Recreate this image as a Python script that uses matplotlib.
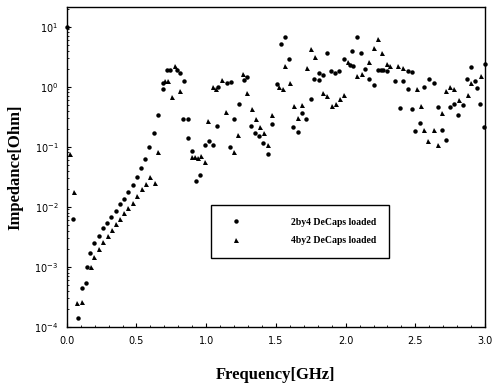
import matplotlib
matplotlib.use("Agg")
import matplotlib.pyplot as plt
from matplotlib.ticker import LogLocator, FixedLocator

# 2by4 DeCaps loaded (circulos)
f_2by4 = [0.0, 0.048, 0.083, 0.107, 0.138, 0.143, 0.167, 0.198, 0.232, 0.258,
          0.289, 0.32, 0.351, 0.382, 0.411, 0.442, 0.473, 0.506, 0.533, 0.561,
          0.592, 0.626, 0.652, 0.688, 0.693, 0.717, 0.74, 0.789, 0.812, 0.836,
          0.841, 0.867, 0.867, 0.9, 0.927, 0.958, 0.99, 1.02, 1.05, 1.08,
          1.087, 1.147, 1.17, 1.178, 1.2, 1.235, 1.27, 1.295, 1.319, 1.35,
          1.38, 1.41, 1.44, 1.47, 1.505, 1.534, 1.565, 1.596, 1.625, 1.656,
          1.687, 1.715, 1.751, 1.775, 1.81, 1.81, 1.84, 1.868, 1.895, 1.923,
          1.954, 1.99, 2.03, 2.048, 2.05, 2.08, 2.11, 2.14, 2.167, 2.2,
          2.23, 2.25, 2.27, 2.3, 2.353, 2.39, 2.413, 2.444, 2.449, 2.478,
          2.478, 2.5, 2.533, 2.564, 2.6, 2.63, 2.66, 2.69, 2.717, 2.75,
          2.78, 2.807, 2.843, 2.867, 2.898, 2.93, 2.94, 2.963, 2.99, 3.0]
z_2by4 = [10.0, 0.0062, 1.4e-4, 4.4e-4, 5.4e-4, 1.0e-3, 1.7e-3, 2.5e-3, 3.3e-3, 4.4e-3,
          5.4e-3, 6.8e-3, 8.5e-3, 0.011, 0.0135, 0.0174, 0.023, 0.031, 0.044, 0.063,
          0.1, 0.166, 0.34, 0.91, 1.14, 1.86, 1.9, 1.9, 1.7, 0.29,
          1.26, 0.29, 0.138, 0.085, 0.027, 0.034, 0.107, 0.126, 0.105, 0.224,
          1.0, 1.17, 0.1, 1.2, 0.29, 0.51, 1.29, 1.45, 0.224, 0.166,
          0.15, 0.117, 0.076, 0.24, 1.1, 5.1, 6.8, 2.9, 0.21, 0.174,
          0.36, 0.29, 0.62, 1.35, 1.66, 1.29, 1.57, 3.6, 1.82, 1.7,
          1.82, 2.9, 2.3, 4.0, 2.24, 6.6, 3.7, 1.97, 1.35, 1.07,
          1.9, 1.9, 1.9, 1.85, 1.22, 0.44, 1.22, 0.91, 1.82, 1.78,
          0.42, 0.186, 0.25, 0.98, 1.32, 1.17, 0.46, 0.19, 0.129, 0.46,
          0.52, 0.34, 0.5, 1.35, 2.14, 1.26, 0.95, 0.52, 0.21, 2.4]

# 4by2 DeCaps loaded (triangulos)
f_4by2 = [0.02, 0.053, 0.076, 0.112, 0.174, 0.198, 0.232, 0.263, 0.294, 0.325,
          0.353, 0.382, 0.413, 0.442, 0.473, 0.506, 0.538, 0.568, 0.597, 0.633,
          0.657, 0.703, 0.724, 0.753, 0.776, 0.812, 0.896, 0.92, 0.94, 0.96,
          0.991, 1.015, 1.05, 1.07, 1.116, 1.142, 1.2, 1.23, 1.266, 1.295,
          1.326, 1.355, 1.386, 1.417, 1.445, 1.47, 1.524, 1.548, 1.565, 1.6,
          1.63, 1.66, 1.69, 1.72, 1.751, 1.78, 1.84, 1.868, 1.9, 1.93,
          1.96, 1.99, 2.018, 2.083, 2.115, 2.17, 2.2, 2.23, 2.263, 2.294,
          2.32, 2.378, 2.413, 2.509, 2.54, 2.564, 2.59, 2.63, 2.66, 2.69,
          2.717, 2.75, 2.78, 2.81, 2.874, 2.9, 2.97]
z_4by2 = [0.075, 0.0178, 2.5e-4, 2.6e-4, 1.0e-3, 1.45e-3, 2.0e-3, 2.6e-3, 3.2e-3, 4.1e-3,
          5.1e-3, 6.3e-3, 7.8e-3, 9.5e-3, 0.0117, 0.015, 0.0195, 0.024, 0.031, 0.0245,
          0.08, 1.25, 1.26, 0.68, 2.2, 0.85, 0.068, 0.068, 0.066, 0.07,
          0.056, 0.27, 0.98, 0.9, 1.29, 0.38, 0.081, 0.158, 1.62, 0.78,
          0.42, 0.29, 0.21, 0.166, 0.107, 0.34, 1.0, 0.93, 2.2, 1.17,
          0.47, 0.3, 0.5, 2.04, 4.3, 3.1, 0.78, 0.71, 0.48, 0.52,
          0.62, 0.72, 2.6, 1.5, 1.62, 2.6, 4.4, 6.2, 3.7, 2.4,
          2.2, 2.2, 2.04, 0.91, 0.48, 0.19, 0.126, 0.19, 0.105, 0.36,
          0.85, 0.98, 0.91, 0.6, 0.72, 1.15, 1.48]

x_ticks = [0.0, 0.5, 1.0, 1.5, 2.0, 2.5, 3.0]
x_tick_labels = ['0.0', '0.5', '1.0', '1.5', '2.0', '2.5', '3.0']
y_ticks = [1e-4, 1e-3, 1e-2, 1e-1, 1e0, 1e1]
y_tick_labels = ['$10^{-4}$', '$10^{-3}$', '$10^{-2}$', '$10^{-1}$', '$10^{0}$', '$10^{1}$']

fig = plt.figure(figsize=(4.92, 3.85), dpi=100)
ax = fig.add_axes([0.1356, 0.1514, 0.8504, 0.8296])

ax.plot(f_2by4, z_2by4, 'o', color='black', markersize=3.2, markeredgewidth=0,
        label='2by4 DeCaps loaded', clip_on=False)
ax.plot(f_4by2, z_4by2, '^', color='black', markersize=3.6, markeredgewidth=0,
        label='4by2 DeCaps loaded', clip_on=False)

ax.set_yscale('log')
ax.set_xlim([0, 3.0])
ax.set_ylim([1e-4, 21])

ax.xaxis.set_major_locator(FixedLocator(x_ticks))
ax.set_xticklabels(x_tick_labels, fontsize=7, family='DejaVu Sans')
ax.yaxis.set_major_locator(FixedLocator(y_ticks))
ax.set_yticklabels(y_tick_labels, fontsize=7, family='DejaVu Sans')
ax.yaxis.set_minor_locator(LogLocator(base=10, subs=range(2, 10), numticks=20))
ax.xaxis.set_minor_locator(FixedLocator([i * 0.1 for i in range(31)]))
ax.tick_params(axis='both', which='major', direction='in', length=3, width=0.8, pad=6)
ax.tick_params(axis='both', which='minor', direction='in', length=1.5, width=0.6)
ax.tick_params(axis='x', which='major', pad=7)

for s in ax.spines.values():
    s.set_linewidth(1.0)

ax.set_xlabel('Frequency[GHz]', fontsize=12, fontweight='bold',
              family='Liberation Serif', labelpad=15)
ax.set_ylabel('Impedance[Ohm]', fontsize=12, fontweight='bold',
              family='Liberation Serif', labelpad=8)

leg = ax.legend(loc='center', bbox_to_anchor=(0.558, 0.298), fancybox=False,
                edgecolor='black', framealpha=1, handlelength=2.55,
                handletextpad=4.4, borderpad=1.3, labelspacing=1.0,
                prop={'family': 'Liberation Serif', 'weight': 'bold', 'size': 7})
leg.get_frame().set_linewidth(1.0)

plt.savefig('out.png', dpi=100)
